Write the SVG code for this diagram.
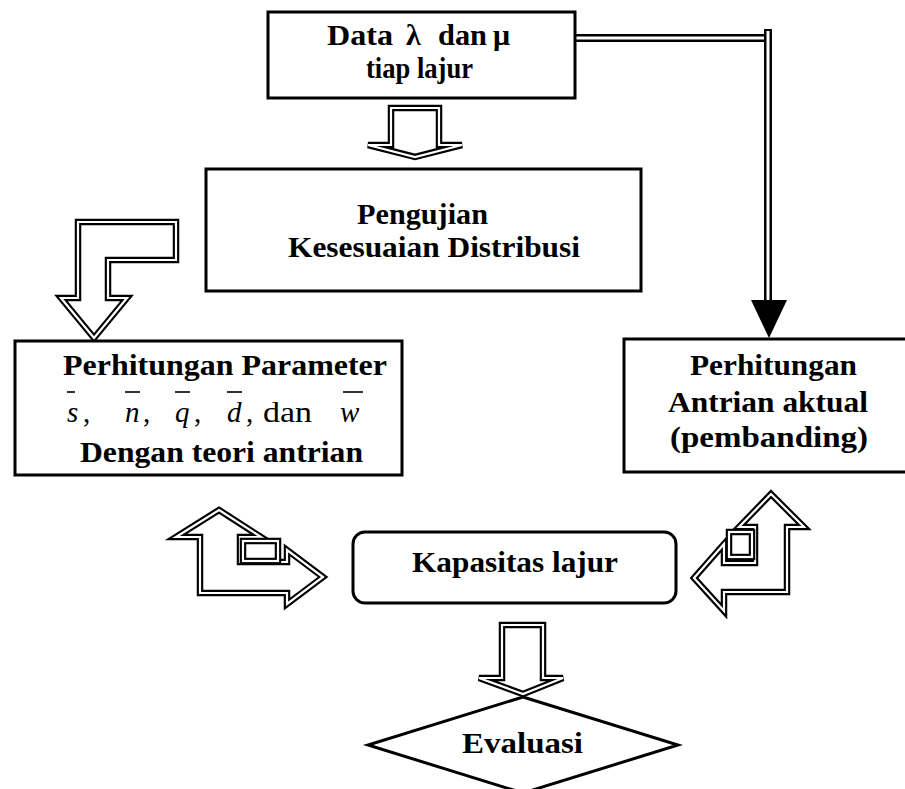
<svg xmlns="http://www.w3.org/2000/svg" width="905" height="789" viewBox="0 0 905 789">
<style>
.box{fill:#fff;stroke:#000;stroke-width:3}
.t{font-family:"Liberation Serif","Times New Roman",serif;font-weight:bold;font-size:30px;fill:#000}
.m{font-family:"Liberation Serif","Times New Roman",serif;font-size:29px;fill:#000}
.i{font-style:italic}
.ao{fill:#fff;stroke:#000;stroke-width:6.5;stroke-linejoin:miter}
.ai{fill:none;stroke:#fff;stroke-width:2.2;stroke-linejoin:miter}
.dl{fill:none;stroke:#000;stroke-width:8}
.dw{fill:none;stroke:#fff;stroke-width:3}
.bar{stroke:#000;stroke-width:1.6}
</style>
<rect width="905" height="789" fill="#fff"/>
<g id="connectors">
  <path class="dl" d="M575,38 H765"/>
  <path class="dw" d="M575,38 H766"/>
  <path class="dl" d="M768,29 V302"/>
  <path class="dw" d="M768,31 V302"/>
  <polygon points="751,300 787,300 769,338" fill="#000"/>
  <g id="arrow-down-1">
    <path class="ao" d="M391,108 H439 V145 H462 L415,157 L368,145 H391 Z"/>
    <path class="ai" d="M391,108 H439 V145 H462 L415,157 L368,145 H391 Z"/>
  </g>
  <g id="arrow-L">
    <path class="ao" d="M78,222 H176 V260 H108 V298 H127 L94,338 L61,298 H78 Z"/>
    <path class="ai" d="M78,222 H176 V260 H108 V298 H127 L94,338 L61,298 H78 Z"/>
  </g>
  <g id="arrow-left-bent">
    <path class="ao" d="M219,510 L261,537 H240 V562 H287 V550 L323,577 L287,604 V593 H200 V537 H176 Z"/>
    <path class="ai" d="M219,510 L261,537 H240 V562 H287 V550 L323,577 L287,604 V593 H200 V537 H176 Z"/>
    <rect class="ao" x="243" y="541" width="35" height="20"/>
    <rect class="ai" x="243" y="541" width="35" height="20"/>
  </g>
  <g id="arrow-right-bent">
    <path class="ao" d="M771,494 L804,527 H787 V592 H724 V611 L694,578 L724,544 V563 H755 V527 H739 Z"/>
    <path class="ai" d="M771,494 L804,527 H787 V592 H724 V611 L694,578 L724,544 V563 H755 V527 H739 Z"/>
    <rect class="ao" x="729" y="532" width="23" height="25"/>
    <rect class="ai" x="729" y="532" width="23" height="25"/>
  </g>
  <g id="arrow-down-2">
    <path class="ao" d="M502,625 H543 V678 H563 L523,694 L479,678 H502 Z"/>
    <path class="ai" d="M502,625 H543 V678 H563 L523,694 L479,678 H502 Z"/>
  </g>
</g>
<g id="node-data">
  <rect class="box" x="268" y="12" width="307" height="86"/>
  <text class="t" x="327" y="45" textLength="66" lengthAdjust="spacingAndGlyphs">Data</text>
  <text class="t" x="406" y="45">λ</text>
  <text class="t" x="438" y="45" textLength="49" lengthAdjust="spacingAndGlyphs">dan</text>
  <text class="t" x="493" y="45">μ</text>
  <text class="t" x="366" y="78" textLength="107" lengthAdjust="spacingAndGlyphs">tiap lajur</text>
</g>
<g id="node-pengujian">
  <rect class="box" x="206" y="169" width="435" height="122"/>
  <text class="t" x="357" y="224" textLength="131" lengthAdjust="spacingAndGlyphs">Pengujian</text>
  <text class="t" x="288" y="257" textLength="292" lengthAdjust="spacingAndGlyphs">Kesesuaian Distribusi</text>
</g>
<g id="node-parameter">
  <rect class="box" x="15" y="341" width="387" height="134"/>
  <text class="t" x="63" y="375" textLength="324" lengthAdjust="spacingAndGlyphs">Perhitungan Parameter</text>
  <text class="m i" x="67" y="422">s</text>
  <text class="m" x="83" y="422">,</text>
  <text class="m i" x="125" y="422">n</text>
  <text class="m" x="143" y="422">,</text>
  <text class="m i" x="175" y="422">q</text>
  <text class="m" x="194" y="422">,</text>
  <text class="m i" x="227" y="422">d</text>
  <text class="m" x="246" y="422">,</text>
  <text class="m" x="263" y="422" textLength="49" lengthAdjust="spacingAndGlyphs">dan</text>
  <text class="m i" x="340" y="422">w</text>
  <line class="bar" x1="67" y1="392" x2="75" y2="392"/>
  <line class="bar" x1="125" y1="392" x2="140" y2="392"/>
  <line class="bar" x1="175" y1="392" x2="190" y2="392"/>
  <line class="bar" x1="227" y1="392" x2="242" y2="392"/>
  <line class="bar" x1="343" y1="392" x2="363" y2="392"/>
  <text class="t" x="80" y="462" textLength="283" lengthAdjust="spacingAndGlyphs">Dengan teori antrian</text>
</g>
<g id="node-aktual">
  <rect class="box" x="624" y="339" width="300" height="133"/>
  <text class="t" x="690" y="375" textLength="167" lengthAdjust="spacingAndGlyphs">Perhitungan</text>
  <text class="t" x="668" y="412" textLength="200" lengthAdjust="spacingAndGlyphs">Antrian aktual</text>
  <text class="t" x="670" y="447" textLength="198" lengthAdjust="spacingAndGlyphs">(pembanding)</text>
</g>
<g id="node-kapasitas">
  <rect class="box" x="353" y="532" width="323" height="71" rx="12" ry="12"/>
  <text class="t" x="412" y="572" textLength="206" lengthAdjust="spacingAndGlyphs">Kapasitas lajur</text>
</g>
<g id="node-evaluasi">
  <polygon class="box" points="523,697 678,745 523,793 368,745"/>
  <text class="t" x="462" y="753" textLength="121" lengthAdjust="spacingAndGlyphs">Evaluasi</text>
</g>
</svg>
